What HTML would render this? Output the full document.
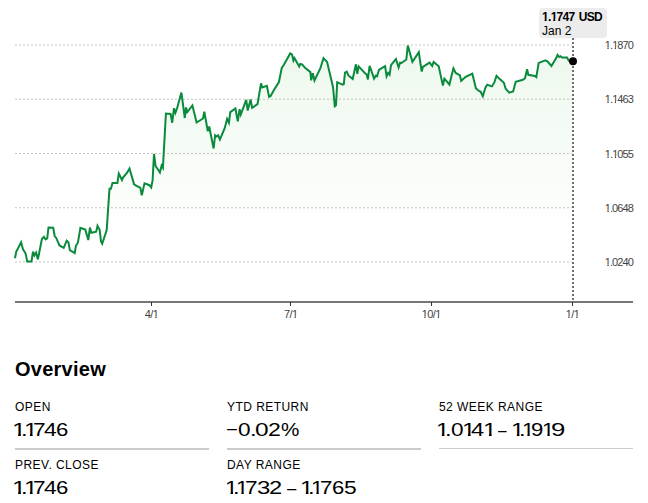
<!DOCTYPE html>
<html><head><meta charset="utf-8">
<style>
html,body{margin:0;padding:0;background:#fff;}
body{width:648px;height:503px;position:relative;overflow:hidden;font-family:"Liberation Sans",Arial,sans-serif;color:#000;}
svg{position:absolute;left:0;top:0;}
.t{position:absolute;white-space:nowrap;line-height:1;}
.yl{font-size:11px;color:#444;right:15px;letter-spacing:-0.9px;}
.xl{font-size:11px;color:#444;letter-spacing:-0.6px;transform:translateX(-50%);}
.tip1{font-size:12px;font-weight:bold;left:542px;top:11px;letter-spacing:-0.7px;word-spacing:1.6px;}
.tip2{font-size:12px;left:542px;top:25px;}
h2{position:absolute;margin:0;left:15px;top:359px;font-size:20px;font-weight:bold;line-height:1;letter-spacing:0.25px;}
.lab{font-size:12px;letter-spacing:0.45px;}
.val{font-size:19px;}
.g{position:absolute;top:0;transform-origin:0 0;}
.hr{position:absolute;height:2px;background:#ccc;width:194px;top:448px;}
</style></head><body>
<svg width="648" height="330" viewBox="0 0 648 330">
<defs>
<linearGradient id="g" x1="0" y1="50" x2="0" y2="224" gradientUnits="userSpaceOnUse">
<stop offset="0" stop-color="#14a014" stop-opacity="0.072"/>
<stop offset="0.8" stop-color="#14a014" stop-opacity="0.025"/>
<stop offset="1" stop-color="#14a014" stop-opacity="0"/>
</linearGradient>
</defs>
<path d="M15,258.2 L16.2,251.8 L21.1,242.3 L22.9,249 L25.6,253.5 L27.2,261.5 L31.5,261.5 L33,251.6 L34.4,255.4 L36.1,252.5 L37.9,259.4 L41.9,239 L43.9,236.8 L45.6,239.4 L47.2,238.5 L48.5,227.5 L53.2,227.8 L54.7,236 L56.2,237.9 L59.5,245.5 L63.7,247.8 L66.7,240.7 L68.4,242.3 L69.9,250.1 L74.7,253.2 L76,245.6 L77.9,242.7 L80.4,227.8 L85.3,229.6 L88.3,240 L89.9,227.6 L91.4,232.8 L96.2,231.6 L97.5,225.8 L99.7,230 L101,241.5 L102.2,243.8 L106.7,230 L109.5,188.7 L110.9,188.7 L112.5,182.9 L117.4,182.9 L118.8,173.5 L122,180 L123,177.6 L127.1,172.7 L129.5,168.5 L134.1,184.3 L136.2,185.6 L140.4,188 L141.8,195.4 L144.5,183.4 L149.4,185.2 L151.2,187.5 L152.6,180.4 L154,154 L155.6,166 L159.9,172.6 L161.6,165.6 L162.9,167.8 L165.9,113.6 L170.6,114 L172.2,122.7 L174,108.2 L175.4,112.9 L177,108.5 L181.4,92.6 L184.8,118 L186,107.4 L187.3,112 L192.4,105.5 L196.6,122.5 L203,118.5 L204.3,111.8 L207.8,131.3 L209.2,126.5 L213.6,148.5 L215.1,135.3 L216.3,136.5 L218.1,135.3 L219.9,139.5 L224.7,128.2 L227.1,119 L228.9,122.8 L230.3,112.1 L235.4,108.5 L237.8,121.3 L239.6,109.2 L240.8,114.5 L246.2,99.8 L247.7,110.5 L250.6,99.5 L252.1,107.9 L257.5,104.1 L261,83.4 L262.2,87.4 L266.9,85.8 L269.1,96.9 L270.5,96.3 L274.1,89.7 L278.9,82 L281.8,67.7 L283.6,65.3 L290.2,53.4 L292,54.5 L293.4,60.5 L294.4,58 L299.2,66.5 L300.3,63.9 L302.1,64.3 L305.1,67.9 L310.4,72.1 L311.2,80.4 L312.8,73.3 L314.5,80.5 L320.3,68.5 L323.5,58.2 L327.1,61.9 L333,87 L334.8,106.2 L336,105.2 L337.2,82.2 L342.6,84.6 L343.8,84 L345,72.7 L346.8,71.7 L348.6,75.7 L352.7,78.9 L355.9,64.3 L357.3,73.8 L358.6,66.4 L365.5,73.8 L366.7,74.4 L367.9,79.4 L369.6,65.8 L374.1,78.6 L375.9,75.6 L377.1,76.2 L378.9,69.8 L385.1,66.2 L386.6,76.3 L388.2,72.9 L389.6,74.6 L391,65.1 L395.9,59 L398.6,67.4 L400.1,62.7 L401.5,63 L406.3,59.5 L407.8,45.6 L412.4,61.8 L418.8,52.3 L421.7,71.6 L422.9,67 L429.5,62.7 L432.2,66 L433.6,62 L438.7,66.3 L442.9,85.6 L444.4,78.6 L449.4,84.5 L453.4,68.3 L455.7,73 L459.8,75.1 L461.2,80.8 L465.7,76.8 L472.3,73.6 L475.9,88.2 L477.7,90 L480.7,91.8 L482.8,96.3 L485.4,87.6 L487.2,84.8 L492,86.4 L494.4,82.2 L496.5,75.9 L499.2,78.6 L503.9,82.8 L505.7,88.8 L509.2,92.6 L513.1,91.5 L515.7,81.8 L522.9,79.8 L525,78.2 L527.1,69.2 L528.3,74.8 L534.8,76 L536.3,77.2 L538.7,62.9 L545.5,60.4 L547.7,61.6 L551.4,66 L556.2,58.1 L557.5,55 L559.2,57 L560.5,56.2 L562,57.5 L567,57.4 L568.9,60.8 L573,61.3 L573,301 L15,301 Z" fill="url(#g)"/>
<g stroke="#c4c4c4" stroke-width="1" stroke-dasharray="2,2">
<line x1="15" y1="45" x2="572" y2="45"/>
<line x1="15" y1="99.25" x2="572" y2="99.25"/>
<line x1="15" y1="153.5" x2="572" y2="153.5"/>
<line x1="15" y1="207.75" x2="572" y2="207.75"/>
<line x1="15" y1="262" x2="572" y2="262"/>
</g>
<polyline points="15,258.2 16.2,251.8 21.1,242.3 22.9,249 25.6,253.5 27.2,261.5 31.5,261.5 33,251.6 34.4,255.4 36.1,252.5 37.9,259.4 41.9,239 43.9,236.8 45.6,239.4 47.2,238.5 48.5,227.5 53.2,227.8 54.7,236 56.2,237.9 59.5,245.5 63.7,247.8 66.7,240.7 68.4,242.3 69.9,250.1 74.7,253.2 76,245.6 77.9,242.7 80.4,227.8 85.3,229.6 88.3,240 89.9,227.6 91.4,232.8 96.2,231.6 97.5,225.8 99.7,230 101,241.5 102.2,243.8 106.7,230 109.5,188.7 110.9,188.7 112.5,182.9 117.4,182.9 118.8,173.5 122,180 123,177.6 127.1,172.7 129.5,168.5 134.1,184.3 136.2,185.6 140.4,188 141.8,195.4 144.5,183.4 149.4,185.2 151.2,187.5 152.6,180.4 154,154 155.6,166 159.9,172.6 161.6,165.6 162.9,167.8 165.9,113.6 170.6,114 172.2,122.7 174,108.2 175.4,112.9 177,108.5 181.4,92.6 184.8,118 186,107.4 187.3,112 192.4,105.5 196.6,122.5 203,118.5 204.3,111.8 207.8,131.3 209.2,126.5 213.6,148.5 215.1,135.3 216.3,136.5 218.1,135.3 219.9,139.5 224.7,128.2 227.1,119 228.9,122.8 230.3,112.1 235.4,108.5 237.8,121.3 239.6,109.2 240.8,114.5 246.2,99.8 247.7,110.5 250.6,99.5 252.1,107.9 257.5,104.1 261,83.4 262.2,87.4 266.9,85.8 269.1,96.9 270.5,96.3 274.1,89.7 278.9,82 281.8,67.7 283.6,65.3 290.2,53.4 292,54.5 293.4,60.5 294.4,58 299.2,66.5 300.3,63.9 302.1,64.3 305.1,67.9 310.4,72.1 311.2,80.4 312.8,73.3 314.5,80.5 320.3,68.5 323.5,58.2 327.1,61.9 333,87 334.8,106.2 336,105.2 337.2,82.2 342.6,84.6 343.8,84 345,72.7 346.8,71.7 348.6,75.7 352.7,78.9 355.9,64.3 357.3,73.8 358.6,66.4 365.5,73.8 366.7,74.4 367.9,79.4 369.6,65.8 374.1,78.6 375.9,75.6 377.1,76.2 378.9,69.8 385.1,66.2 386.6,76.3 388.2,72.9 389.6,74.6 391,65.1 395.9,59 398.6,67.4 400.1,62.7 401.5,63 406.3,59.5 407.8,45.6 412.4,61.8 418.8,52.3 421.7,71.6 422.9,67 429.5,62.7 432.2,66 433.6,62 438.7,66.3 442.9,85.6 444.4,78.6 449.4,84.5 453.4,68.3 455.7,73 459.8,75.1 461.2,80.8 465.7,76.8 472.3,73.6 475.9,88.2 477.7,90 480.7,91.8 482.8,96.3 485.4,87.6 487.2,84.8 492,86.4 494.4,82.2 496.5,75.9 499.2,78.6 503.9,82.8 505.7,88.8 509.2,92.6 513.1,91.5 515.7,81.8 522.9,79.8 525,78.2 527.1,69.2 528.3,74.8 534.8,76 536.3,77.2 538.7,62.9 545.5,60.4 547.7,61.6 551.4,66 556.2,58.1 557.5,55 559.2,57 560.5,56.2 562,57.5 567,57.4 568.9,60.8 573,61.3" fill="none" stroke="#0a8a3c" stroke-width="2"/>
<line x1="573" y1="38" x2="573" y2="301" stroke="#707070" stroke-width="2" stroke-dasharray="2,2"/>
<line x1="15" y1="302" x2="633" y2="302" stroke="#767676" stroke-width="2"/>
<g stroke="#333" stroke-width="1">
<line x1="151.5" y1="302" x2="151.5" y2="306"/>
<line x1="290.5" y1="302" x2="290.5" y2="306"/>
<line x1="431.5" y1="302" x2="431.5" y2="306"/>
<line x1="572.5" y1="302" x2="572.5" y2="306"/>
</g>
<circle cx="573" cy="61.3" r="4" fill="#000"/>
<rect x="539" y="8" width="68" height="30" rx="4" fill="#ececec"/>
</svg>
<div class="t tip1"><span style="display:inline-block;clip-path:polygon(-5px -5px,40px -5px,40px 7.93px,4.65px 7.93px,4.65px 40px,2.60px 40px,2.60px 7.93px,-5px 7.93px)">1</span>.<span style="display:inline-block;clip-path:polygon(-5px -5px,40px -5px,40px 7.93px,4.65px 7.93px,4.65px 40px,2.60px 40px,2.60px 7.93px,-5px 7.93px)">1</span>747 USD</div>
<div class="t tip2">Jan 2</div>
<div class="t yl" style="top:40px"><span style="display:inline-block;clip-path:polygon(-5px -5px,40px -5px,40px 7.33px,3.94px 7.33px,3.94px 40px,2.57px 40px,2.57px 7.33px,-5px 7.33px)">1</span>.<span style="display:inline-block;clip-path:polygon(-5px -5px,40px -5px,40px 7.33px,3.94px 7.33px,3.94px 40px,2.57px 40px,2.57px 7.33px,-5px 7.33px)">1</span>870</div>
<div class="t yl" style="top:94px"><span style="display:inline-block;clip-path:polygon(-5px -5px,40px -5px,40px 7.33px,3.94px 7.33px,3.94px 40px,2.57px 40px,2.57px 7.33px,-5px 7.33px)">1</span>.<span style="display:inline-block;clip-path:polygon(-5px -5px,40px -5px,40px 7.33px,3.94px 7.33px,3.94px 40px,2.57px 40px,2.57px 7.33px,-5px 7.33px)">1</span>463</div>
<div class="t yl" style="top:149px"><span style="display:inline-block;clip-path:polygon(-5px -5px,40px -5px,40px 7.33px,3.94px 7.33px,3.94px 40px,2.57px 40px,2.57px 7.33px,-5px 7.33px)">1</span>.<span style="display:inline-block;clip-path:polygon(-5px -5px,40px -5px,40px 7.33px,3.94px 7.33px,3.94px 40px,2.57px 40px,2.57px 7.33px,-5px 7.33px)">1</span>055</div>
<div class="t yl" style="top:203px"><span style="display:inline-block;clip-path:polygon(-5px -5px,40px -5px,40px 7.33px,3.94px 7.33px,3.94px 40px,2.57px 40px,2.57px 7.33px,-5px 7.33px)">1</span>.0648</div>
<div class="t yl" style="top:257px"><span style="display:inline-block;clip-path:polygon(-5px -5px,40px -5px,40px 7.33px,3.94px 7.33px,3.94px 40px,2.57px 40px,2.57px 7.33px,-5px 7.33px)">1</span>.0240</div>
<div class="t xl" style="left:151.5px;top:309px">4/<span style="display:inline-block;clip-path:polygon(-5px -5px,40px -5px,40px 7.33px,3.94px 7.33px,3.94px 40px,2.57px 40px,2.57px 7.33px,-5px 7.33px)">1</span></div>
<div class="t xl" style="left:290.7px;top:309px">7/<span style="display:inline-block;clip-path:polygon(-5px -5px,40px -5px,40px 7.33px,3.94px 7.33px,3.94px 40px,2.57px 40px,2.57px 7.33px,-5px 7.33px)">1</span></div>
<div class="t xl" style="left:431.2px;top:309px"><span style="display:inline-block;clip-path:polygon(-5px -5px,40px -5px,40px 7.33px,3.94px 7.33px,3.94px 40px,2.57px 40px,2.57px 7.33px,-5px 7.33px)">1</span>0/<span style="display:inline-block;clip-path:polygon(-5px -5px,40px -5px,40px 7.33px,3.94px 7.33px,3.94px 40px,2.57px 40px,2.57px 7.33px,-5px 7.33px)">1</span></div>
<div class="t xl" style="left:572.4px;top:309px"><span style="display:inline-block;clip-path:polygon(-5px -5px,40px -5px,40px 7.33px,3.94px 7.33px,3.94px 40px,2.57px 40px,2.57px 7.33px,-5px 7.33px)">1</span>/<span style="display:inline-block;clip-path:polygon(-5px -5px,40px -5px,40px 7.33px,3.94px 7.33px,3.94px 40px,2.57px 40px,2.57px 7.33px,-5px 7.33px)">1</span></div>
<h2>Overview</h2>
<div class="t lab" style="left:15px;top:401px">OPEN</div>
<div class="t val" style="left:13px;top:420px"><span class="g" style="left:-0.55px;transform:scaleX(1.339);clip-path:polygon(-5px -5px,40px -5px,40px 13.73px,6.66px 13.73px,6.66px 40px,4.58px 40px,4.58px 13.73px,-5px 13.73px)">1</span><span class="g" style="left:8.20px;transform:scaleX(1.250)">.</span><span class="g" style="left:10.63px;transform:scaleX(1.296);clip-path:polygon(-5px -5px,40px -5px,40px 13.73px,6.66px 13.73px,6.66px 40px,4.58px 40px,4.58px 13.73px,-5px 13.73px)">1</span><span class="g" style="left:20.14px;transform:scaleX(1.193)">7</span><span class="g" style="left:30.68px;transform:scaleX(1.201)">4</span><span class="g" style="left:43.48px;transform:scaleX(1.163)">6</span></div>
<div class="t lab" style="left:227px;top:401px">YTD RETURN</div>
<div class="t val" style="left:225px;top:420px"><span class="g" style="left:0.91px;transform:scaleX(1.062)">−</span><span class="g" style="left:13.02px;transform:scaleX(1.189)">0</span><span class="g" style="left:24.60px;transform:scaleX(1.250)">.</span><span class="g" style="left:30.24px;transform:scaleX(1.288)">0</span><span class="g" style="left:43.24px;transform:scaleX(1.213)">2</span><span class="g" style="left:56.36px;transform:scaleX(1.088)">%</span></div>
<div class="t lab" style="left:439px;top:401px">52 WEEK RANGE</div>
<div class="t val" style="left:437px;top:420px"><span class="g" style="left:-0.63px;transform:scaleX(1.274);clip-path:polygon(-5px -5px,40px -5px,40px 13.73px,6.66px 13.73px,6.66px 40px,4.58px 40px,4.58px 13.73px,-5px 13.73px)">1</span><span class="g" style="left:7.85px;transform:scaleX(1.250)">.</span><span class="g" style="left:13.82px;transform:scaleX(1.189)">0</span><span class="g" style="left:25.23px;transform:scaleX(1.296);clip-path:polygon(-5px -5px,40px -5px,40px 13.73px,6.66px 13.73px,6.66px 40px,4.58px 40px,4.58px 13.73px,-5px 13.73px)">1</span><span class="g" style="left:34.06px;transform:scaleX(1.243)">4</span><span class="g" style="left:45.73px;transform:scaleX(1.296);clip-path:polygon(-5px -5px,40px -5px,40px 13.73px,6.66px 13.73px,6.66px 40px,4.58px 40px,4.58px 13.73px,-5px 13.73px)">1</span><span class="g" style="left:55.00px"> </span><span class="g" style="left:61.00px;transform:scaleX(0.805)">–</span><span class="g" style="left:70.00px"> </span><span class="g" style="left:73.67px;transform:scaleX(1.274);clip-path:polygon(-5px -5px,40px -5px,40px 13.73px,6.66px 13.73px,6.66px 40px,4.58px 40px,4.58px 13.73px,-5px 13.73px)">1</span><span class="g" style="left:82.10px;transform:scaleX(1.250)">.</span><span class="g" style="left:85.17px;transform:scaleX(1.166);clip-path:polygon(-5px -5px,40px -5px,40px 13.73px,6.66px 13.73px,6.66px 40px,4.58px 40px,4.58px 13.73px,-5px 13.73px)">1</span><span class="g" style="left:93.86px;transform:scaleX(1.162)">9</span><span class="g" style="left:104.57px;transform:scaleX(1.166);clip-path:polygon(-5px -5px,40px -5px,40px 13.73px,6.66px 13.73px,6.66px 40px,4.58px 40px,4.58px 13.73px,-5px 13.73px)">1</span><span class="g" style="left:113.59px;transform:scaleX(1.356)">9</span></div>
<div class="hr" style="left:15px"></div>
<div class="hr" style="left:227px"></div>
<div class="hr" style="left:439px;height:1px"></div>
<div class="t lab" style="left:15px;top:459px">PREV. CLOSE</div>
<div class="t val" style="left:13px;top:478px"><span class="g" style="left:-0.55px;transform:scaleX(1.339);clip-path:polygon(-5px -5px,40px -5px,40px 13.73px,6.66px 13.73px,6.66px 40px,4.58px 40px,4.58px 13.73px,-5px 13.73px)">1</span><span class="g" style="left:8.20px;transform:scaleX(1.250)">.</span><span class="g" style="left:10.63px;transform:scaleX(1.296);clip-path:polygon(-5px -5px,40px -5px,40px 13.73px,6.66px 13.73px,6.66px 40px,4.58px 40px,4.58px 13.73px,-5px 13.73px)">1</span><span class="g" style="left:20.14px;transform:scaleX(1.193)">7</span><span class="g" style="left:30.68px;transform:scaleX(1.201)">4</span><span class="g" style="left:43.48px;transform:scaleX(1.163)">6</span></div>
<div class="t lab" style="left:227px;top:459px">DAY RANGE</div>
<div class="t val" style="left:225px;top:478px"><span class="g" style="left:-0.21px;transform:scaleX(1.210);clip-path:polygon(-5px -5px,40px -5px,40px 13.73px,6.66px 13.73px,6.66px 40px,4.58px 40px,4.58px 13.73px,-5px 13.73px)">1</span><span class="g" style="left:8.35px;transform:scaleX(1.250)">.</span><span class="g" style="left:11.37px;transform:scaleX(1.166);clip-path:polygon(-5px -5px,40px -5px,40px 13.73px,6.66px 13.73px,6.66px 40px,4.58px 40px,4.58px 13.73px,-5px 13.73px)">1</span><span class="g" style="left:19.84px;transform:scaleX(1.193)">7</span><span class="g" style="left:31.98px;transform:scaleX(1.265)">3</span><span class="g" style="left:44.21px;transform:scaleX(1.248)">2</span><span class="g" style="left:57.00px"> </span><span class="g" style="left:61.80px;transform:scaleX(0.881)">–</span><span class="g" style="left:72.00px"> </span><span class="g" style="left:74.57px;transform:scaleX(1.274);clip-path:polygon(-5px -5px,40px -5px,40px 13.73px,6.66px 13.73px,6.66px 40px,4.58px 40px,4.58px 13.73px,-5px 13.73px)">1</span><span class="g" style="left:82.75px;transform:scaleX(1.250)">.</span><span class="g" style="left:86.07px;transform:scaleX(1.166);clip-path:polygon(-5px -5px,40px -5px,40px 13.73px,6.66px 13.73px,6.66px 40px,4.58px 40px,4.58px 13.73px,-5px 13.73px)">1</span><span class="g" style="left:94.65px;transform:scaleX(1.181)">7</span><span class="g" style="left:106.58px;transform:scaleX(1.163)">6</span><span class="g" style="left:118.59px;transform:scaleX(1.199)">5</span></div>
</body></html>
